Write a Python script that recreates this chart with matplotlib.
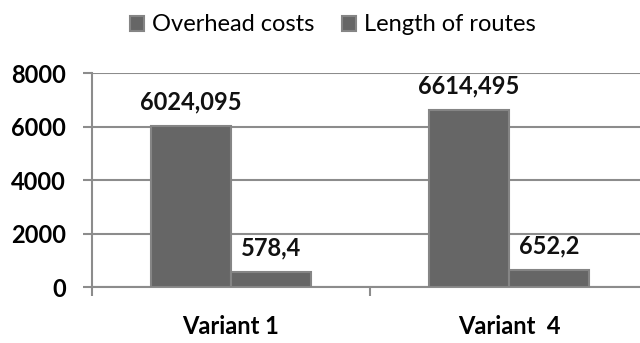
import matplotlib
matplotlib.use("Agg")
import matplotlib.pyplot as plt
import numpy as np

plt.rcParams["font.family"] = ["Lato", "DejaVu Sans"]

categories = ["Variant 1", "Variant  4"]
series_names = ["Overhead costs", "Length of routes"]
overhead = [6024.095, 6614.495]
routes = [578.4, 652.2]
overhead_labels = ["6024,095", "6614,495"]
routes_labels = ["578,4", "652,2"]
yticks = [0, 2000, 4000, 6000, 8000]

BAR_COLOR = "#666666"
EDGE_COLOR = "#858585"
GRID_COLOR = "#8c8c8c"

fig = plt.figure(figsize=(6.4, 3.43), dpi=100)
ax = fig.add_axes([0.1437, 0.163, 0.869, 0.624])

x = np.arange(len(categories))
w = 0.288
b1 = ax.bar(x - w / 2, overhead, w, color=BAR_COLOR, edgecolor=EDGE_COLOR,
            linewidth=1.5, label=series_names[0], zorder=3)
b2 = ax.bar(x + w / 2, routes, w, color=BAR_COLOR, edgecolor=EDGE_COLOR,
            linewidth=1.5, label=series_names[1], zorder=3)

for bars, labels in ((b1, overhead_labels), (b2, routes_labels)):
    for rect, lab in zip(bars, labels):
        ax.annotate(lab, (rect.get_x() + rect.get_width() / 2, rect.get_height()),
                    xytext=(0, 9), textcoords="offset points",
                    ha="center", va="bottom", fontsize=17, fontweight="bold",
                    color="#111111")

ax.set_xlim(-0.5, 1.5)
ax.set_ylim(0, 8000)
ax.set_yticks(yticks)
ax.set_yticklabels([str(v) for v in yticks], fontsize=17, fontweight="bold")
ax.set_xticks(x)
ax.set_xticklabels(categories, fontsize=17, fontweight="bold")
ax.set_xticks([-0.5, 0.5, 1.5], minor=True)
ax.tick_params(axis="x", which="major", length=0, pad=20)
ax.tick_params(axis="x", which="minor", length=6.5, width=1.5, color=GRID_COLOR)
ax.tick_params(axis="y", length=6.5, width=1.5, color=GRID_COLOR, pad=12)

ax.grid(axis="y", color=GRID_COLOR, linewidth=1.5, zorder=0)
ax.set_axisbelow(True)
for side in ("top", "right"):
    ax.spines[side].set_visible(False)
ax.spines["left"].set_color(GRID_COLOR)
ax.spines["left"].set_linewidth(1.5)
ax.spines["bottom"].set_color(GRID_COLOR)
ax.spines["bottom"].set_linewidth(1.5)

fig.legend(handles=[b1, b2], labels=series_names, loc="upper center",
           bbox_to_anchor=(0.52, 1.02), ncol=2, frameon=False, fontsize=17,
           handlelength=0.6, handleheight=0.6, handletextpad=0.3,
           columnspacing=1.2)

fig.savefig("out.png", dpi=100)
